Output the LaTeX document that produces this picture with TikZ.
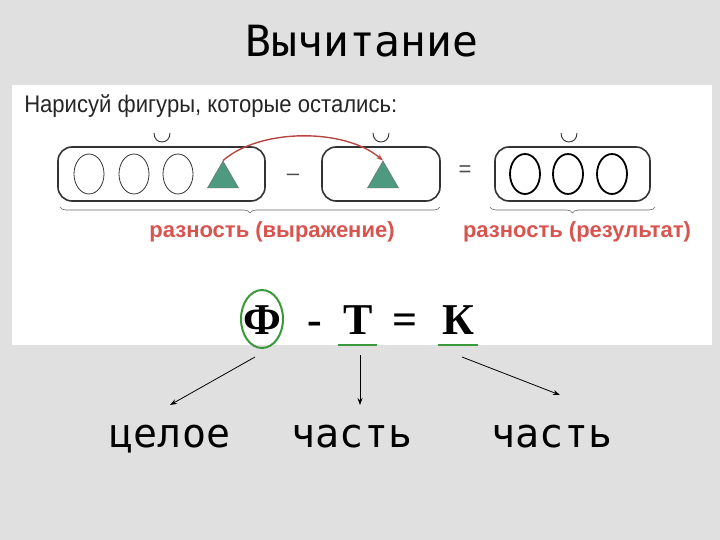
\documentclass[tikz,border=0pt]{standalone}
\usepackage{fontspec}
\setmainfont{Liberation Serif}
\newfontfamily\monof{DejaVu Sans Mono}
\newfontfamily\sansf{Liberation Sans}
\usetikzlibrary{arrows.meta,decorations.pathreplacing,shapes.geometric}
\definecolor{tri}{HTML}{4E9A80}
\definecolor{lbl}{HTML}{D9534F}
\definecolor{grn}{HTML}{3A9A3A}
\tikzset{
 box/.style={draw=black!80,line width=1.6pt,rounded corners=14pt},
 circ/.style={draw=black!80,ellipse,minimum width=30pt,minimum height=40pt,inner sep=0pt,line width=0.8pt},
 circb/.style={circ,line width=1.8pt,draw=black},
 trig/.style={draw=black!60,fill=tri,regular polygon,regular polygon sides=3,minimum size=36pt,inner sep=0pt},
 big/.style={font=\monof\fontsize{40}{40}\selectfont,anchor=base},
 red/.style={text=lbl,font=\sansf\bfseries\fontsize{22}{22}\selectfont,anchor=base},
 frm/.style={font=\bfseries\fontsize{44}{44}\selectfont,anchor=base},
 arr/.style={-{Stealth[length=7pt,width=5pt]},line width=0.8pt},
 brc/.style={decorate,decoration={brace,mirror,amplitude=6pt},draw=black!60,line width=0.6pt},
 cup/.style={draw=black!80,line width=0.9pt}
}
\begin{document}
\begin{tikzpicture}[x=1pt,y=-1pt]
\fill[black!12] (0,0) rectangle (720,540);
\useasboundingbox (0,0) rectangle (720,540);
\fill[white] (12,85) rectangle (712,345);
\node[font=\monof\fontsize{43}{43}\selectfont,anchor=base] (title) at (362,57) {Вычитание};
\node[anchor=base west,font=\sansf\fontsize{24}{24}\selectfont,text=black!85,xscale=0.92] (instr) at (21,113) {Нарисуй фигуры, которые остались:};
% boxes
\draw[box] (58,147) rectangle (265,201);
\draw[box] (322,147) rectangle (440,201);
\draw[box] (495,147) rectangle (650,201);
\foreach \x in {162,381,569}{\draw[cup] (\x-8,133) .. controls (\x-8,145) and (\x+8,145) .. (\x+8,133);}
\node[circ] (c1) at (89,174) {};
\node[circ] (c2) at (134,174) {};
\node[circ] (c3) at (178,174) {};
\node[trig] (t1) at (223,179) {};
\node[trig] (t2) at (383,179) {};
\node[circb] (d1) at (525,174) {};
\node[circb] (d2) at (568,174) {};
\node[circb] (d3) at (612,174) {};
\node[font=\sansf\fontsize{22}{22}\selectfont,text=black!70] (minus) at (293,177) {–};
\node[font=\sansf\fontsize{22}{22}\selectfont,text=black!70] (eq) at (465,171) {=};
\draw[arr,draw=lbl!85!black,line width=1.4pt] (t1.north) .. controls (260,128) and (345,128) .. (t2.north);
\draw[brc] (60,207) -- (440,207);
\draw[brc] (490,207) -- (655,207);
\node[red] (l1) at (272,237) {разность (выражение)};
\node[red] (l2) at (577,237) {разность (результат)};
% formula
\node[frm] (F) at (262,334) {Ф};
\node[frm] (m) at (315,334) {-};
\node[frm] (T) at (358,334) {Т};
\node[frm] (e) at (405,334) {=};
\node[frm] (K) at (458,334) {К};
\draw[grn,line width=2pt] (262,319) ellipse (21 and 29);
\coordinate (u1) at (338,345); \coordinate (u2) at (377,345);
\coordinate (v1) at (438,345); \coordinate (v2) at (478,345);
\draw[grn,line width=2.5pt] (u1) -- (u2);
\draw[grn,line width=2.5pt] (v1) -- (v2);
\node[big] (w1) at (170,447) {целое};
\node[big] (w2) at (352,447) {часть};
\node[big] (w3) at (552,447) {часть};
\coordinate (s1) at (255,357); \coordinate (e1) at (170,405);
\coordinate (s2) at (360,355); \coordinate (e2) at (360,405);
\coordinate (s3) at (462,357); \coordinate (e3) at (560,395);
\draw[arr] (s1) -- (e1);
\draw[arr] (s2) -- (e2);
\draw[arr] (s3) -- (e3);
\end{tikzpicture}
\end{document}
